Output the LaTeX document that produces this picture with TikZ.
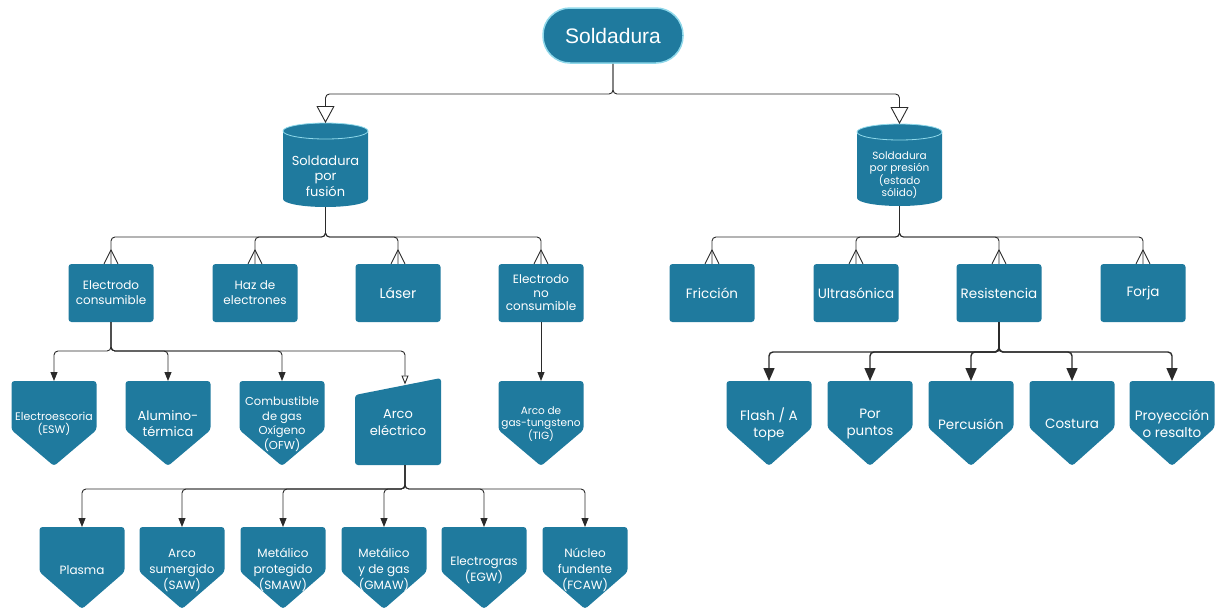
\documentclass[tikz,border=0pt]{standalone}
\usepackage{fontspec}
\setmainfont{Poppins}
\newfontfamily\rootfont{Liberation Sans}
\usetikzlibrary{arrows.meta,calc}
\definecolor{tealc}{HTML}{1F7A9E}
\definecolor{rimc}{HTML}{8FD8EA}
\definecolor{linec}{HTML}{2A2A2A}
\tikzset{
 conn/.style={draw=linec, line width=0.9pt, rounded corners=4pt},
 fillarrow/.style={-{Triangle[length=9pt,width=7pt]}},
 bigarrow/.style={line width=1.4pt,-{Triangle[length=13pt,width=11pt]}},
 openarrow/.style={-{Triangle[open,length=17pt,width=18pt,fill=white]}},
 smallopen/.style={-{Triangle[open,length=9pt,width=7pt,fill=white]}},
 boxs/.style={fill=tealc, rounded corners=3pt, minimum width=85pt, minimum height=58pt, text=white, align=center, inner sep=0pt, font=\fontsize{12}{15}\selectfont},
 lbl/.style={text=white, align=center, inner sep=0pt},
 crowline/.style={draw=linec, line width=0.9pt},
}
\newcommand\pentshape[7]{%
 \fill[tealc, rounded corners=3pt] (#2-42.5,#3) -- (#2+42.5,#3) -- (#2+42.5,#3+#4) -- (#2,#3+#5) -- (#2-42.5,#3+#4) -- cycle;
 \node[lbl, font=#6] (#1) at (#2,#3+43) {#7};
 \coordinate (#1-t) at (#2,#3);
}
\newcommand\crowfoot[1]{%
 \draw[crowline] ([yshift=14pt]#1.north) -- ([xshift=-7pt]#1.north);
 \draw[crowline] ([yshift=14pt]#1.north) -- ([xshift=7pt]#1.north);
}
\begin{document}
\begin{tikzpicture}[x=1pt,y=-1pt]
\useasboundingbox (0,0) rectangle (1215,611);
% root
\node[fill=tealc, draw=rimc, line width=1.5pt, rounded corners=27pt, minimum width=140pt, minimum height=55pt, text=white, font=\rootfont\fontsize{21}{25}\selectfont] (root) at (613,35.5) {Soldadura};
% cylinders
\fill[tealc] (283,131) -- (283,199) arc[start angle=180,end angle=360,x radius=42.5pt,y radius=8pt] -- (368,131) arc[start angle=0,end angle=180,x radius=42.5pt,y radius=8pt] -- cycle;
\draw[rimc, line width=0.8pt] (325.5,131) ellipse[x radius=42.5pt, y radius=8pt];
\node[lbl, font=\fontsize{13}{15.5}\selectfont] (fusion) at (325.5,176) {Soldadura\\por\\fusión};
\coordinate (fusion-n) at (325.5,123);
\coordinate (fusion-s) at (325.5,207);
\fill[tealc] (857,132) -- (857,198) arc[start angle=180,end angle=360,x radius=42.5pt,y radius=8pt] -- (942,132) arc[start angle=0,end angle=180,x radius=42.5pt,y radius=8pt] -- cycle;
\draw[rimc, line width=0.8pt] (899.5,132) ellipse[x radius=42.5pt, y radius=8pt];
\node[lbl, font=\fontsize{10.5}{12}\selectfont] (presion) at (899.5,175) {Soldadura\\por presión\\(estado\\sólido)};
\coordinate (presion-n) at (899.5,124);
\coordinate (presion-s) at (899.5,206);
\draw[conn, openarrow] (root.south) -- (root.south |- 0,94) -| (fusion-n);
\draw[conn, openarrow] (root.south) -- (root.south |- 0,94) -| (presion-n);
% row 2 left
\node[boxs] (ec) at (111,293) {Electrodo\\consumible};
\node[boxs] (haz) at (255,293) {Haz de\\electrones};
\node[boxs, font=\fontsize{14}{16}\selectfont] (laser) at (398,293) {Láser};
\node[boxs, font=\fontsize{12}{13.5}\selectfont] (enc) at (541,293) {Electrodo\\no\\consumible};
\foreach \n in {ec,haz,laser,enc}{
 \draw[conn] (fusion-s) -- (fusion-s |- 0,237) -| (\n.north);
 \crowfoot{\n}
}
% row 2 right
\node[boxs, font=\fontsize{13.5}{16}\selectfont] (fric) at (712,293) {Fricción};
\node[boxs, font=\fontsize{13.5}{16}\selectfont] (ultra) at (856,293) {Ultrasónica};
\node[boxs, font=\fontsize{13.5}{16}\selectfont] (resis) at (999,293) {Resistencia};
\node[boxs, font=\fontsize{13.5}{16}\selectfont] (forja) at (1143,293) {Forja};
\foreach \n in {fric,ultra,resis,forja}{
 \draw[conn] (presion-s) -- (presion-s |- 0,237) -| (\n.north);
 \crowfoot{\n}
}
% row 3 left
\pentshape{esw}{54}{381}{49}{85}{\fontsize{11}{13}\selectfont}{Electroescoria\\(ESW)}
\pentshape{alu}{168}{381}{49}{85}{\fontsize{13}{16}\selectfont}{Alumino-\\térmica}
\pentshape{ofw}{282}{381}{49}{85}{\fontsize{11.5}{14.5}\selectfont}{Combustible\\de gas\\Oxígeno\\(OFW)}
\pentshape{tig}{541}{381}{49}{85}{\fontsize{10.5}{12}\selectfont}{Arco de\\gas-tungsteno\\(TIG)}
\fill[tealc, rounded corners=3pt] (355,395) -- (441,378) -- (441,465) -- (355,465) -- cycle;
\node[lbl, font=\fontsize{13}{17}\selectfont] (arco) at (398,423) {Arco\\eléctrico};
\coordinate (arco-t) at (405,384.5);
\coordinate (arco-b) at (405,465);
\foreach \n in {esw,alu,ofw}{
 \draw[conn, fillarrow] (ec.south) -- (ec.south |- 0,351) -| (\n-t);
}
\draw[conn, smallopen] (ec.south) -- (ec.south |- 0,351) -| (arco-t);
\draw[conn, fillarrow] (enc.south) -- (tig-t);
% row 4
\pentshape{plasma}{82}{527}{45}{82}{\fontsize{12}{16}\selectfont}{Plasma}
\pentshape{saw}{182}{527}{45}{82}{\fontsize{12}{16}\selectfont}{Arco\\sumergido\\(SAW)}
\pentshape{smaw}{283}{527}{45}{82}{\fontsize{12}{16}\selectfont}{Metálico\\protegido\\(SMAW)}
\pentshape{gmaw}{384}{527}{45}{82}{\fontsize{12}{16}\selectfont}{Metálico\\y de gas\\(GMAW)}
\pentshape{egw}{484}{527}{45}{82}{\fontsize{12}{16}\selectfont}{Electrogras\\(EGW)}
\pentshape{fcaw}{585}{527}{45}{82}{\fontsize{12}{16}\selectfont}{Núcleo\\fundente\\(FCAW)}
\foreach \n in {plasma,saw,smaw,gmaw,egw,fcaw}{
 \draw[conn, fillarrow] (arco-b) -- (arco-b |- 0,489) -| (\n-t);
}
% row 3 right
\pentshape{flash}{769}{381}{47}{85}{\fontsize{13.5}{17}\selectfont}{Flash / A\\tope}
\pentshape{puntos}{870}{381}{47}{85}{\fontsize{13.5}{17}\selectfont}{Por\\puntos}
\pentshape{percu}{971}{381}{47}{85}{\fontsize{13.5}{17}\selectfont}{Percusión}
\pentshape{costura}{1072}{381}{47}{85}{\fontsize{13.5}{17}\selectfont}{Costura}
\pentshape{proy}{1172}{381}{47}{85}{\fontsize{13.5}{17}\selectfont}{Proyección\\o resalto}
\foreach \n in {flash,puntos,percu,costura,proy}{
 \draw[conn, bigarrow] (resis.south) -- (resis.south |- 0,352) -| (\n-t);
}
\end{tikzpicture}
\end{document}
